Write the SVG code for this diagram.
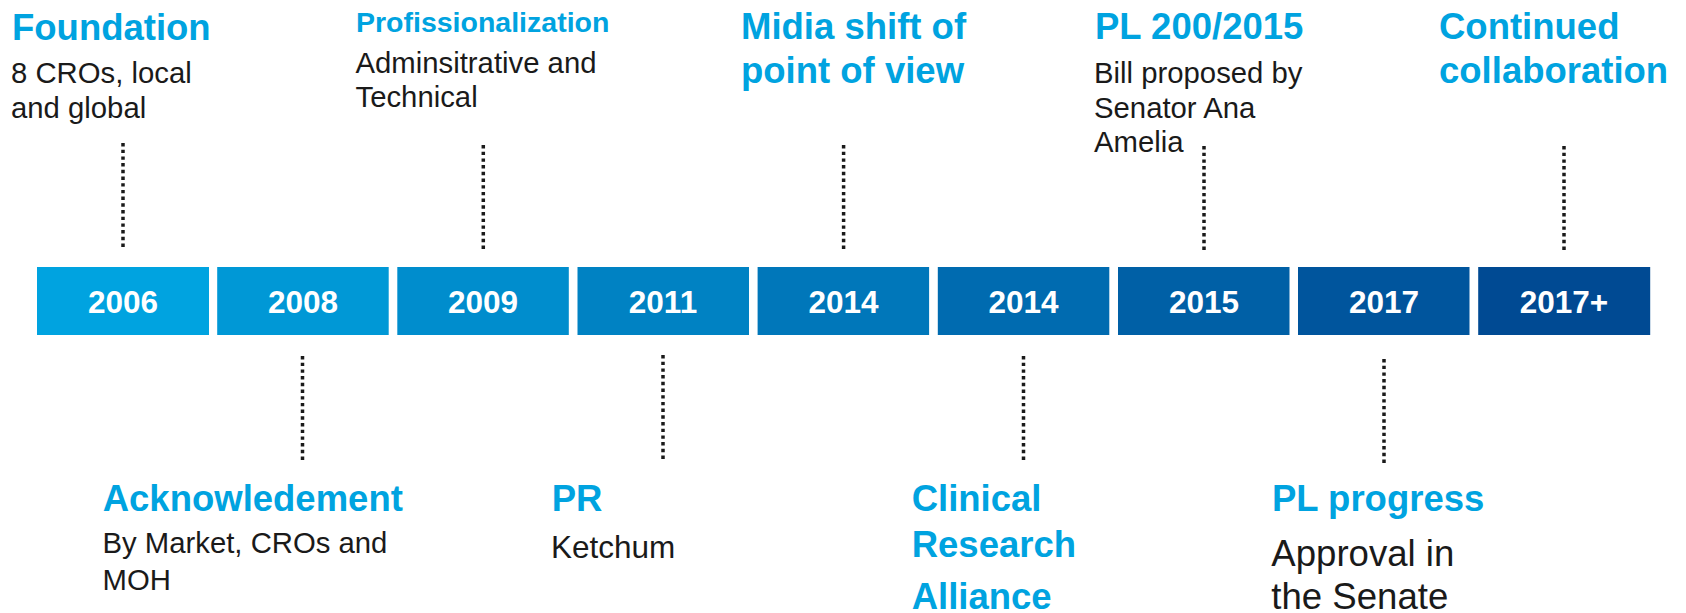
<svg xmlns="http://www.w3.org/2000/svg" width="1686" height="613" viewBox="0 0 1686 613">
<style>
.box{stroke:none}
.yr{font-family:"Liberation Sans",Arial,sans-serif;font-weight:bold;font-size:31.5px;fill:#ffffff;text-anchor:middle}
.ttl{font-family:"Liberation Sans",Arial,sans-serif;font-weight:bold;font-size:36.5px;fill:#00A3E0}
.ttl2{font-family:"Liberation Sans",Arial,sans-serif;font-weight:bold;font-size:28.5px;fill:#00A3E0}
.bd{font-family:"Liberation Sans",Arial,sans-serif;font-size:29.3px;fill:#1a1a1a}
.bdm{font-family:"Liberation Sans",Arial,sans-serif;font-size:31.5px;fill:#1a1a1a}
.bdl{font-family:"Liberation Sans",Arial,sans-serif;font-size:36.6px;fill:#1a1a1a}
.dot{stroke:#1a1a1a;stroke-width:3.5;stroke-dasharray:3.4 3.3;fill:none}
</style>
<rect width="1686" height="613" fill="#ffffff"/>
<g id="connectors">
<line class="dot" x1="123" y1="143" x2="123" y2="248"/>
<line class="dot" x1="483.3" y1="145" x2="483.3" y2="249"/>
<line class="dot" x1="843.6" y1="145" x2="843.6" y2="249"/>
<line class="dot" x1="1204" y1="146" x2="1204" y2="250"/>
<line class="dot" x1="1564" y1="146" x2="1564" y2="250"/>
<line class="dot" x1="302.5" y1="356" x2="302.5" y2="460"/>
<line class="dot" x1="663" y1="355" x2="663" y2="462"/>
<line class="dot" x1="1023.5" y1="356" x2="1023.5" y2="460"/>
<line class="dot" x1="1384" y1="359" x2="1384" y2="464"/>
</g>
<g id="y2006"><rect class="box" x="37" y="267" width="172" height="68" fill="#00A3E0"/><text class="yr" x="123" y="313">2006</text></g>
<g id="y2008"><rect class="box" x="217.2" y="267" width="171.5" height="68" fill="#0098D6"/><text class="yr" x="303" y="313">2008</text></g>
<g id="y2009"><rect class="box" x="397.3" y="267" width="171.5" height="68" fill="#008DCD"/><text class="yr" x="483" y="313">2009</text></g>
<g id="y2011"><rect class="box" x="577.5" y="267" width="171.5" height="68" fill="#0082C3"/><text class="yr" x="663" y="313">2011</text></g>
<g id="y2014a"><rect class="box" x="757.6" y="267" width="171.5" height="68" fill="#0077BA"/><text class="yr" x="843.5" y="313">2014</text></g>
<g id="y2014b"><rect class="box" x="937.8" y="267" width="171.5" height="68" fill="#006BB0"/><text class="yr" x="1023.5" y="313">2014</text></g>
<g id="y2015"><rect class="box" x="1118" y="267" width="171.5" height="68" fill="#0060A6"/><text class="yr" x="1204" y="313">2015</text></g>
<g id="y2017"><rect class="box" x="1298" y="267" width="171.5" height="68" fill="#00559D"/><text class="yr" x="1384" y="313">2017</text></g>
<g id="y2017p"><rect class="box" x="1478.2" y="267" width="172" height="68" fill="#004A93"/><text class="yr" x="1564" y="313">2017+</text></g>
<g id="foundation">
<text class="ttl" x="12" y="40">Foundation</text>
<text class="bd" x="11" y="82.7">8 CROs, local</text>
<text class="bd" x="11" y="118.3">and global</text>
</g>
<g id="profissionalization">
<text class="ttl2" x="356" y="31.7">Profissionalization</text>
<text class="bd" x="355.5" y="72.7">Adminsitrative and</text>
<text class="bd" x="355.5" y="107.3">Technical</text>
</g>
<g id="midia">
<text class="ttl" x="741" y="39.3">Midia shift of</text>
<text class="ttl" x="741" y="83.3">point of view</text>
</g>
<g id="pl2002015">
<text class="ttl" x="1095" y="39.3">PL 200/2015</text>
<text class="bd" x="1094" y="83.3">Bill proposed by</text>
<text class="bd" x="1094" y="118.3">Senator Ana</text>
<text class="bd" x="1094" y="152.3">Amelia</text>
</g>
<g id="continued">
<text class="ttl" x="1439" y="39.3">Continued</text>
<text class="ttl" x="1439" y="82.7">collaboration</text>
</g>
<g id="acknowledement">
<text class="ttl" x="102.7" y="510.7">Acknowledement</text>
<text class="bd" x="102.5" y="553.3">By Market, CROs and</text>
<text class="bd" x="102.5" y="590">MOH</text>
</g>
<g id="pr">
<text class="ttl" x="551.7" y="510.7">PR</text>
<text class="bdm" x="551" y="558">Ketchum</text>
</g>
<g id="clinical">
<text class="ttl" x="911.7" y="510.7">Clinical</text>
<text class="ttl" x="911.7" y="556.7">Research</text>
<text class="ttl" x="911.7" y="609.3">Alliance</text>
</g>
<g id="plprogress">
<text class="ttl" x="1272" y="510.7">PL progress</text>
<text class="bdl" x="1271.3" y="565.7">Approval in</text>
<text class="bdl" x="1271.3" y="609.3">the Senate</text>
</g>
</svg>
